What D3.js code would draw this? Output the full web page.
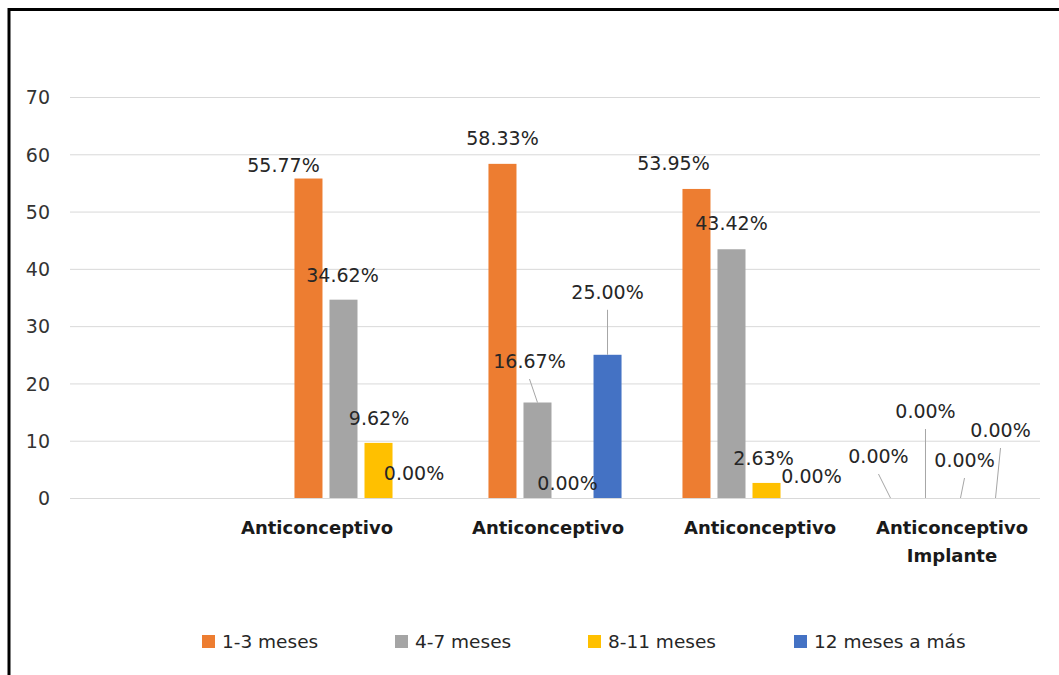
<!DOCTYPE html>
<html>
<head>
<meta charset="utf-8">
<script src="https://cdn.jsdelivr.net/npm/d3@7"></script>
<style>
  html, body { margin: 0; padding: 0; background: #fff; }
  svg { display: block; }
</style>
</head>
<body>
<svg id="chart" width="1059" height="675"></svg>
<script>
// ---------------- DATA ----------------
const categories = ["", "Anticonceptivo", "Anticonceptivo", "Anticonceptivo", "Anticonceptivo Implante"];
const seriesNames = ["1-3 meses", "4-7 meses", "8-11 meses", "12 meses a más"];
const s13  = [null, 55.77, 58.33, 53.95, 0.00];
const s47  = [null, 34.62, 16.67, 43.42, 0.00];
const s811 = [null, 9.62, 0.00, 2.63, 0.00];
const s12  = [null, 0.00, 25.00, 0.00, 0.00];
const yTicks = [0, 10, 20, 30, 40, 50, 60, 70];

// ---------------- STYLE / LAYOUT ----------------
const colors = ["#ED7D31", "#A5A5A5", "#FFC000", "#4472C4"];
const seriesValues = [s13, s47, s811, s12];
// data-label offsets (px) relative to bar centre / bar top, per category then series
const labelOffsets = [
  [null, null, null, null],
  [[-25, -6.5], [-1, -18], [0.5, -18], [0.5, -18]],
  [[0, -19], [-8, -34.5], [-5, -8], [0, -56]],
  [[-23, -19], [0, -19], [-3, -18], [10, -15]],
  [[-12, -35], [0, -80], [4, -31], [5, -61]]
];
const leaders = [
  [false, false, false, false],
  [false, false, false, false],
  [false, true, false, true],
  [false, false, false, false],
  [true, true, true, true]
];
const catLabelShift = [0, -44, -7, 11, 9];
const legendX = [202, 395, 588, 794];

const svg = d3.select("#chart");
svg.append("rect").attr("width", 1059).attr("height", 675).attr("fill", "#fff");

// frame (left + top border)
svg.append("path").attr("d", "M9,675 L9,9.5 L1059,9.5")
  .attr("fill", "none").attr("stroke", "#000").attr("stroke-width", 3);

const plotLeft = 70, plotRight = 1040, yTop = 97, yBottom = 498;

const x0 = d3.scaleBand().domain(d3.range(categories.length)).range([plotLeft, plotRight]).padding(0);
const x1 = d3.scaleBand().domain(d3.range(seriesNames.length)).range([0, x0.bandwidth()])
  .paddingInner(0.2).paddingOuter(0.87);
const y = d3.scaleLinear().domain([0, 70]).range([yBottom, yTop]);

// gridlines
svg.append("g").selectAll("line").data(yTicks).join("line")
  .attr("x1", plotLeft).attr("x2", plotRight)
  .attr("y1", d => y(d) + 0.5).attr("y2", d => y(d) + 0.5)
  .attr("stroke", "#d9d9d9").attr("stroke-width", 1);

// y axis labels
const yAxis = d3.axisLeft(y).tickValues(yTicks).tickSize(0).tickPadding(0).tickFormat(d3.format("d"));
const gy = svg.append("g").attr("transform", "translate(50,0)").call(yAxis);
gy.select(".domain").remove();
gy.selectAll("text").attr("font-family", "DejaVu Sans").attr("font-size", 19)
  .attr("fill", "#333").attr("dy", "0.36em");

// bars
const flat = [];
seriesValues.forEach((vals, si) => {
  vals.forEach((v, ci) => {
    if (v !== null) flat.push({ ci, si, v });
  });
});

svg.append("g").selectAll("rect").data(flat).join("rect")
  .attr("x", d => x0(d.ci) + x1(d.si))
  .attr("width", x1.bandwidth())
  .attr("y", d => y(d.v))
  .attr("height", d => y(0) - y(d.v))
  .attr("fill", d => colors[d.si]);

// leader lines
const lead = flat.filter(d => leaders[d.ci][d.si]);
svg.append("g").selectAll("line").data(lead).join("line")
  .attr("x1", d => x0(d.ci) + x1(d.si) + x1.bandwidth() / 2 + labelOffsets[d.ci][d.si][0])
  .attr("y1", d => y(d.v) + labelOffsets[d.ci][d.si][1] + 11)
  .attr("x2", d => x0(d.ci) + x1(d.si) + x1.bandwidth() / 2)
  .attr("y2", d => y(d.v))
  .attr("stroke", "#a6a6a6").attr("stroke-width", 1);

// data labels
svg.append("g").selectAll("text").data(flat).join("text")
  .attr("x", d => x0(d.ci) + x1(d.si) + x1.bandwidth() / 2 + labelOffsets[d.ci][d.si][0])
  .attr("y", d => y(d.v) + labelOffsets[d.ci][d.si][1])
  .attr("text-anchor", "middle")
  .attr("font-family", "DejaVu Sans").attr("font-size", 19).attr("fill", "#262626")
  .text(d => d.v.toFixed(2) + "%");

// category labels
const catG = svg.append("g");
categories.forEach((c, i) => {
  if (!c) return;
  const words = c === "Anticonceptivo Implante" ? ["Anticonceptivo", "Implante"] : [c];
  const t = catG.append("text")
    .attr("x", x0(i) + x0.bandwidth() / 2 + catLabelShift[i])
    .attr("y", 534)
    .attr("text-anchor", "middle")
    .attr("font-family", "DejaVu Sans").attr("font-weight", "bold")
    .attr("font-size", 18).attr("fill", "#1a1a1a");
  words.forEach((w, k) => {
    t.append("tspan").attr("x", x0(i) + x0.bandwidth() / 2 + catLabelShift[i])
      .attr("dy", k === 0 ? 0 : 28).text(w);
  });
});

// legend
const lg = svg.append("g");
seriesNames.forEach((s, i) => {
  lg.append("rect").attr("x", legendX[i]).attr("y", 635).attr("width", 13).attr("height", 13)
    .attr("fill", colors[i]);
  lg.append("text").attr("x", legendX[i] + 20).attr("y", 648)
    .attr("font-family", "DejaVu Sans").attr("font-size", 18.5).attr("fill", "#262626")
    .text(s);
});
</script>
</body>
</html>
